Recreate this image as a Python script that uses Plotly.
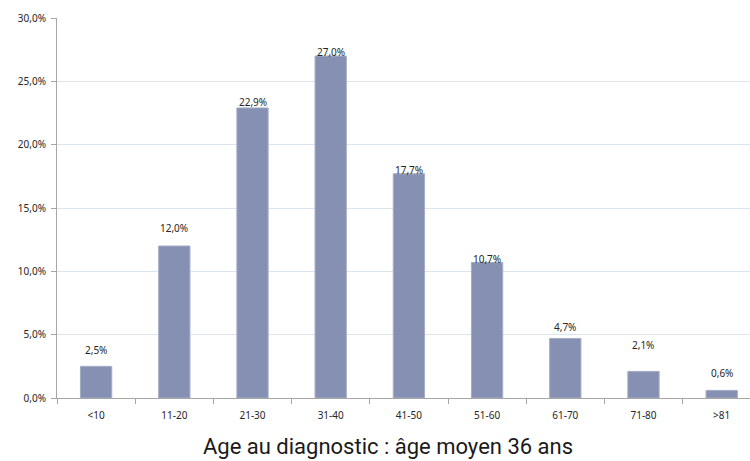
import plotly.graph_objects as go

categories = ["<10", "11-20", "21-30", "31-40", "41-50", "51-60", "61-70", "71-80", ">81"]
values = [2.5, 12.0, 22.9, 27.0, 17.7, 10.7, 4.7, 2.1, 0.6]
y_ticks = [0, 5, 10, 15, 20, 25, 30]
y_tick_labels = ["0,0%", "5,0%", "10,0%", "15,0%", "20,0%", "25,0%", "30,0%"]
title_text = "Age au diagnostic : âge moyen 36 ans"

# label vertical offsets (pixels above bar top), style only
label_shift = [16, 18, 6, 4, 4, 3, 11, 26, 17]

bar_color = "#8690B2"
fig = go.Figure()
fig.add_trace(go.Bar(
    x=categories, y=values, width=0.4,
    marker=dict(color=bar_color, line=dict(color="#A4ACC6", width=1)),
    hoverinfo="skip",
))

for c, v, s in zip(categories, values, label_shift):
    fig.add_annotation(
        x=c, y=v, xref="x", yref="y",
        text=f"{v:.1f}".replace(".", ",") + "%",
        showarrow=False, yanchor="middle", yshift=s,
        font=dict(family="Noto Sans", size=10, color="#262626"),
    )

fig.update_layout(
    width=750, height=461,
    margin=dict(l=57, r=0, t=18, b=63),
    paper_bgcolor="white", plot_bgcolor="white",
    showlegend=False,
    title=dict(text=title_text, x=388 / 750, xanchor="center", y=1 - 446 / 461, yanchor="middle",
               xref="container", yref="container",
               font=dict(family="Roboto", size=22, color="#1a1a1a")),
    xaxis=dict(
        range=[-0.5, 8.362], type="category",
        showline=True, linecolor="#A6A6A6", linewidth=1,
        ticks="outside", ticklen=5, tickcolor="#A6A6A6",
        tickson="boundaries", showgrid=False,
        ticklabelstandoff=8,
        tickfont=dict(family="Noto Sans", size=10, color="#262626"),
        fixedrange=True,
    ),
    yaxis=dict(
        range=[0, 30], tickvals=y_ticks, ticktext=y_tick_labels,
        showline=True, linecolor="#A6A6A6", linewidth=1,
        ticks="outside", ticklen=5, tickcolor="#A6A6A6",
        showgrid=True, gridcolor="#DCE5EF", gridwidth=1,
        zeroline=False, ticklabelstandoff=3,
        tickfont=dict(family="Noto Sans", size=10, color="#262626"),
        fixedrange=True,
    ),
)

fig.write_html("out.html", config={"displayModeBar": False},
               post_script="document.body.style.margin='0';")
